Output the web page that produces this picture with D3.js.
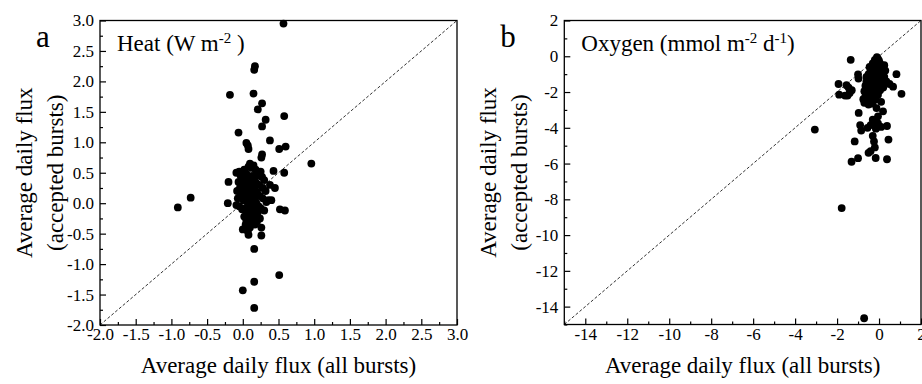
<!DOCTYPE html>
<html lang="en">
  <head>
    <meta charset="UTF-8" />
    <title>Average daily flux: accepted vs all bursts</title>
    <script src="https://d3js.org/d3.v7.min.js"></script>
    <style>
      body {
        margin: 0;
        background: #fff;
      }
      svg {
        display: block;
        font-family: "Liberation Serif", "Times New Roman", serif;
      }
      .dot {
        fill: #000;
      }
      .diag {
        stroke: #333;
        stroke-width: 1;
        stroke-dasharray: 3, 2;
        fill: none;
      }
      .frame {
        fill: none;
        stroke: #000;
        stroke-width: 1.3;
      }
    </style>
  </head>
  <body>
    <svg id="chart" width="922" height="384"></svg>

    <script>
      // panel a: heat flux (W m-2)
      const heatAll = [
        0.57, 0.17, 0.16, -0.18, 0.15, 0.27, 0.21, 0.58, 0.32, 0.27, -0.06,
        0.38, 0.05, 0.07, 0.6, 0.51, 0.08, 0.96, 0.27, 0.26, 0.43, 0.58, -0.2,
        -0.73, -0.91, -0.21, 0.52, 0.59, 0.4, 0.38, 0.45, 0.0, 0.07, 0.08, 0.26,
        0.26, 0.16, 0.51, 0.16, 0.0, 0.16,
        -0.05, -0.03, 0.0, 0.02, 0.05, 0.08, 0.1, 0.12, 0.15, 0.18, 0.2, 0.22,
        0.25, 0.27, 0.3, -0.06, -0.02, 0.03, 0.06, 0.09, 0.11, 0.13, 0.16, 0.19,
        0.23, 0.28, 0.32, -0.08, -0.04, 0.0, 0.04, 0.07, 0.1, 0.12, 0.14, 0.17,
        0.2, 0.24, 0.28, 0.33, -0.07, -0.03, 0.01, 0.05, 0.08, 0.11, 0.13, 0.16,
        0.19, 0.22, 0.25, 0.3, -0.05, -0.01, 0.03, 0.06, 0.09, 0.12, 0.15, 0.18,
        0.21, 0.24, 0.02, 0.05, 0.08, 0.11, 0.14, 0.17, 0.2, 0.04, 0.1, 0.13,
        0.09, 0.07, 0.15, 0.18, 0.11, -0.09, 0.36, -0.09,
      ];
      const heatAccepted = [
        2.95, 2.25, 2.19, 1.78, 1.8, 1.64, 1.54, 1.43, 1.37, 1.26, 1.16, 1.03,
        0.99, 0.95, 0.93, 0.89, 0.89, 0.65, 0.8, 0.75, 0.53, 0.5, 0.35, 0.09,
        -0.07, 0.0, -0.1, -0.12, 0.05, 0.3, 0.25, -0.43, -0.46, -0.52, -0.4,
        -0.53, -0.75, -1.18, -1.29, -1.43, -1.72,
        0.52, 0.45, 0.4, 0.55, 0.48, 0.6, 0.65, 0.58, 0.62, 0.55, 0.5, 0.45,
        0.52, 0.43, 0.38, 0.35, 0.3, 0.33, 0.38, 0.42, 0.35, 0.45, 0.4, 0.33,
        0.3, 0.25, 0.2, 0.2, 0.25, 0.18, 0.22, 0.28, 0.2, 0.25, 0.15, 0.22,
        0.18, 0.12, 0.08, 0.02, 0.08, 0.12, 0.05, 0.1, 0.02, 0.08, -0.02, 0.05,
        0.0, -0.05, -0.08, -0.12, -0.05, -0.1, -0.08, -0.15, -0.12, -0.18, -0.1,
        -0.2, -0.15, -0.25, -0.22, -0.28, -0.25, -0.32, -0.28, -0.35, -0.3,
        -0.35, -0.4, 0.1, 0.15, -0.05, 0.3, 0.1, -0.05, 0.5, 0.05, -0.03,
      ];

      // panel b: oxygen flux (mmol m-2 d-1)
      const oxygenAll = [
        -3.06, -1.78, -0.71, -1.35, -1.93, -1.9, -1.55, -1.45, -1.4, -1.62,
        -1.5, -1.3, -1.0, -0.98, 0.83, 0.67, 1.07, 0.35, 0.5, -0.12, 0.19,
        -0.05, -0.97, 0.1, -0.9, -0.85, -0.55, -0.4, -0.25, -0.15, 0.1, 0.38,
        -0.3, -0.05, -1.16, -0.24, -0.2, -0.4, -0.3, 0.45, -1.31, -1.0, -0.16,
        0.38, -0.5,
        -0.1, -0.05, 0.0, -0.2, 0.05, -0.15, -0.3, 0.1, -0.05, -0.25, 0.15, 0.0,
        -0.2, -0.4, 0.2, 0.05, -0.15, -0.35, -0.5, 0.25, 0.1, -0.1, -0.3, -0.5,
        0.15, -0.05, -0.25, -0.45, -0.6, 0.1, -0.1, -0.3, -0.5, -0.65, 0.05,
        -0.15, -0.35, -0.55, -0.7, -0.05, -0.25, -0.45, -0.65, -0.15, -0.35,
        -0.55, -0.75, -0.3, -0.5, -0.7, 0.25, 0.3, -0.45, -0.6, -0.02, 0.2,
      ];
      const oxygenAccepted = [
        -4.1, -8.49, -14.65, -0.2, -1.55, -2.15, -1.62, -1.75, -2.05, -2.2,
        -2.2, -1.9, -1.02, -1.25, -1.0, -1.7, -2.1, -1.4, -1.55, -2.9, -3.08,
        -3.36, -3.17, -2.55, -3.85, -4.15, -4.0, -3.85, -3.7, -4.05, -3.95,
        -3.9, -3.55, -3.75, -4.76, -4.76, -5.1, -5.3, -4.45, -4.66, -5.9, -5.7,
        -5.69, -5.76, -5.4,
        -0.05, -0.15, -0.25, -0.2, -0.4, -0.45, -0.4, -0.55, -0.6, -0.65, -0.75,
        -0.8, -0.85, -0.8, -0.95, -1.0, -1.05, -1.05, -1.0, -1.15, -1.2, -1.25,
        -1.3, -1.25, -1.4, -1.45, -1.5, -1.45, -1.4, -1.65, -1.7, -1.7, -1.75,
        -1.65, -1.9, -1.95, -1.95, -2.0, -1.95, -2.15, -2.2, -2.25, -2.25, -2.4,
        -2.45, -2.5, -2.4, -2.65, -2.7, -2.6, -0.5, -0.8, -0.6, -1.15, -1.1,
        -1.75,
      ];

      const heatMajor = [-2, -1.5, -1, -0.5, 0, 0.5, 1, 1.5, 2, 2.5, 3];
      const heatMinor = [
        -1.75, -1.25, -0.75, -0.25, 0.25, 0.75, 1.25, 1.75, 2.25, 2.75,
      ];
      const oxygenMajor = [-14, -12, -10, -8, -6, -4, -2, 0, 2];
      const oxygenMinor = [-15, -13, -11, -9, -7, -5, -3, -1, 1];

      const svg = d3.select("#chart");
      svg
        .append("rect")
        .attr("width", 922)
        .attr("height", 384)
        .attr("fill", "#fff");

      const serif = "'Liberation Serif', 'Times New Roman', serif";

      function drawPanel(p) {
        const x = d3.scaleLinear().domain(p.domain).range([p.left, p.right]);
        const y = d3.scaleLinear().domain(p.domain).range([p.bottom, p.top]);
        const g = svg.append("g");

        // diagonal 1:1 line
        g.append("line")
          .attr("class", "diag")
          .attr("x1", x(p.domain[0]))
          .attr("y1", y(p.domain[0]))
          .attr("x2", x(p.domain[1]))
          .attr("y2", y(p.domain[1]));

        // axes, ticks pointing inward
        const styleAxis = (ax) => {
          ax.attr("font-family", serif).attr("font-size", 17);
          ax.select(".domain").remove();
          ax.selectAll("line").attr("stroke", "#000").attr("stroke-width", 1.2);
          ax.selectAll("text")
            .attr("fill", "#000")
            .attr("font-family", serif)
            .attr("font-size", 17);
        };
        g.append("g")
          .attr("transform", `translate(0,${p.bottom})`)
          .call(
            d3.axisBottom(x).tickValues(p.major).tickSize(-6).tickPadding(3)
              .tickFormat(p.fmt)
          )
          .call(styleAxis);
        g.append("g")
          .attr("transform", `translate(0,${p.bottom})`)
          .call(d3.axisBottom(x).tickValues(p.minor).tickSize(-3).tickFormat(""))
          .call(styleAxis);
        g.append("g")
          .attr("transform", `translate(${p.left},0)`)
          .call(
            d3.axisLeft(y).tickValues(p.major).tickSize(-6).tickPadding(6)
              .tickFormat(p.fmt)
          )
          .call(styleAxis);
        g.append("g")
          .attr("transform", `translate(${p.left},0)`)
          .call(d3.axisLeft(y).tickValues(p.minor).tickSize(-3).tickFormat(""))
          .call(styleAxis);

        g.append("rect")
          .attr("class", "frame")
          .attr("x", p.left)
          .attr("y", p.top)
          .attr("width", p.right - p.left)
          .attr("height", p.bottom - p.top);

        // points
        g.selectAll("circle")
          .data(p.xs)
          .join("circle")
          .attr("class", "dot")
          .attr("cx", (d) => x(d))
          .attr("cy", (d, i) => y(p.ys[i]))
          .attr("r", 3.9);

        // titles
        const cx = (p.left + p.right) / 2;
        const cy = (p.top + p.bottom) / 2;
        g.append("text")
          .attr("x", cx)
          .attr("y", 373)
          .attr("text-anchor", "middle")
          .attr("font-family", serif)
          .attr("font-size", 23)
          .text("Average daily flux (all bursts)");
        g.append("text")
          .attr("transform", `translate(${p.left - 68},${cy}) rotate(-90)`)
          .attr("text-anchor", "middle")
          .attr("font-family", serif)
          .attr("font-size", 23)
          .text("Average daily flux");
        g.append("text")
          .attr("transform", `translate(${p.left - 37},${cy}) rotate(-90)`)
          .attr("text-anchor", "middle")
          .attr("font-family", serif)
          .attr("font-size", 23)
          .text("(accepted bursts)");

        g.append("text")
          .attr("x", p.left - 64)
          .attr("y", 47)
          .attr("font-family", serif)
          .attr("font-size", 31)
          .text(p.letter);

        const lab = g
          .append("text")
          .attr("x", p.left + 17)
          .attr("y", 51)
          .attr("font-family", serif)
          .attr("font-size", 23);
        let shift = 0;
        p.label.forEach((part) => {
          if (part.sup) {
            lab.append("tspan").attr("dy", -8).attr("font-size", 15).text(part.sup);
            shift = 8;
          } else {
            lab.append("tspan").attr("dy", shift).text(part.t);
            shift = 0;
          }
        });
      }

      drawPanel({
        letter: "a",
        left: 100,
        right: 457,
        top: 20.5,
        bottom: 325,
        domain: [-2, 3],
        major: heatMajor,
        minor: heatMinor,
        fmt: (d) => d.toFixed(1),
        xs: heatAll,
        ys: heatAccepted,
        label: [{ t: "Heat (W m" }, { sup: "-2" }, { t: " )" }],
      });

      drawPanel({
        letter: "b",
        left: 564.3,
        right: 921,
        top: 20.5,
        bottom: 324.5,
        domain: [-15, 2],
        major: oxygenMajor,
        minor: oxygenMinor,
        fmt: (d) => String(d),
        xs: oxygenAll,
        ys: oxygenAccepted,
        label: [
          { t: "Oxygen (mmol m" },
          { sup: "-2" },
          { t: " d" },
          { sup: "-1" },
          { t: ")" },
        ],
      });
    </script>
  </body>
</html>
